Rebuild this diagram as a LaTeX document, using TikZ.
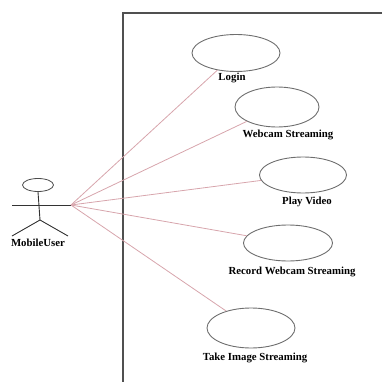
\documentclass[tikz,border=0pt]{standalone}
\usepackage{fontspec}
\setmainfont{Liberation Serif}
\usetikzlibrary{shapes.geometric}
\definecolor{boxgray}{RGB}{80,80,80}
\definecolor{ovalgray}{RGB}{110,110,110}
\definecolor{linkpink}{RGB}{215,165,172}
\tikzset{
  usecase/.style={ellipse,draw=ovalgray,line width=0.9pt,inner sep=0pt},
  uclabel/.style={font=\fontsize{10.8}{12}\selectfont\bfseries,inner sep=0pt,text=black},
  link/.style={draw=linkpink,line width=0.8pt},
  actorline/.style={draw=black!80,line width=0.9pt}
}
\begin{document}
\begin{tikzpicture}[x=1pt,y=-1pt]
\useasboundingbox (0,0) rectangle (382,382);
% system boundary
\coordinate (bTL) at (123,13);
\coordinate (bTR) at (382,13);
\coordinate (bBL) at (123,382);
\draw[boxgray,line width=1.4pt] (bTR) -- (bTL) -- (bBL);
% use cases
\node[usecase,minimum width=88pt,minimum height=37pt] (login) at (236,53) {};
\node[uclabel] (loginL) at (232,78) {Login};
\node[usecase,minimum width=84pt,minimum height=40pt] (webcam) at (277,107) {};
\node[uclabel] (webcamL) at (288,135) {Webcam Streaming};
\node[usecase,minimum width=87pt,minimum height=36pt] (play) at (303,175) {};
\node[uclabel] (playL) at (307,202) {Play Video};
\node[usecase,minimum width=89pt,minimum height=36pt] (record) at (288,243) {};
\node[uclabel] (recordL) at (292,272) {Record Webcam Streaming};
\node[usecase,minimum width=88pt,minimum height=40pt] (take) at (251,328) {};
\node[uclabel] (takeL) at (255,358) {Take Image Streaming};
% actor
\node[ellipse,draw=black!70,line width=0.8pt,minimum width=31pt,minimum height=13pt,inner sep=0pt] (head) at (38,185) {};
\coordinate (armL) at (12,205);
\coordinate (hand) at (71,205);
\coordinate (hip) at (40,220);
\coordinate (footL) at (12,236);
\coordinate (footR) at (68,236);
\draw[actorline] (armL) -- (hand);
\draw[actorline] (head.south) -- (hip);
\draw[actorline] (footL) -- (hip) -- (footR);
\node[uclabel] (actorL) at (38,243) {MobileUser};
% associations
\draw[link] (hand) -- (login);
\draw[link] (hand) -- (webcam);
\draw[link] (hand) -- (play);
\draw[link] (hand) -- (record);
\draw[link] (hand) -- (take);
\end{tikzpicture}
\end{document}
